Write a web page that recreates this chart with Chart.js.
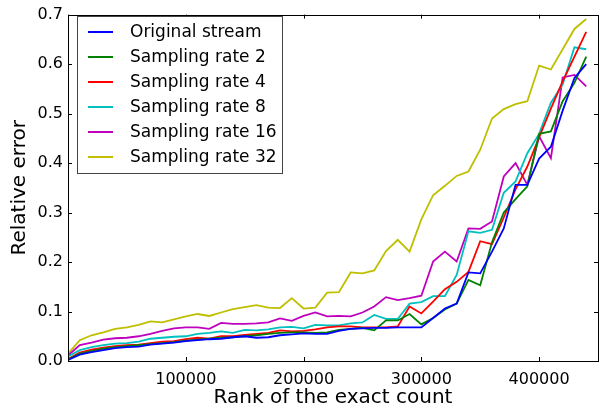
<!DOCTYPE html>
<html>
<head>
<meta charset="utf-8">
<script src="https://cdn.jsdelivr.net/npm/chart.js@4"></script>
<style>
  html, body { margin: 0; padding: 0; background: #fff; }
  #wrap { width: 607px; height: 412px; }
</style>
</head>
<body>
<div id="wrap"><canvas id="graphique" width="607" height="412"></canvas></div>
<script>
// rank of the exact count
var ranks = [0, 10000, 20000, 30000, 40000, 50000, 60000, 70000, 80000, 90000,
  100000, 110000, 120000, 130000, 140000, 150000, 160000, 170000, 180000, 190000,
  200000, 210000, 220000, 230000, 240000, 250000, 260000, 270000, 280000, 290000,
  300000, 310000, 320000, 330000, 340000, 350000, 360000, 370000, 380000, 390000,
  400000, 410000, 420000, 430000, 440000];

var original = [0.002, 0.013, 0.018, 0.022, 0.026, 0.028, 0.029, 0.033, 0.035, 0.037,
  0.040, 0.042, 0.044, 0.045, 0.048, 0.050, 0.047, 0.048, 0.052, 0.054,
  0.056, 0.055, 0.055, 0.061, 0.065, 0.066, 0.067, 0.067, 0.068, 0.068,
  0.068, 0.087, 0.106, 0.116, 0.179, 0.177, 0.221, 0.268, 0.356, 0.356,
  0.409, 0.433, 0.506, 0.572, 0.600];
var rate2 = [0.003, 0.015, 0.020, 0.025, 0.028, 0.030, 0.032, 0.034, 0.036, 0.038,
  0.041, 0.043, 0.045, 0.047, 0.048, 0.050, 0.052, 0.055, 0.057, 0.058,
  0.058, 0.057, 0.058, 0.063, 0.065, 0.067, 0.062, 0.082, 0.082, 0.095,
  0.074, 0.087, 0.104, 0.116, 0.164, 0.153, 0.240, 0.300, 0.327, 0.353,
  0.459, 0.464, 0.525, 0.562, 0.615];
var rate4 = [0.004, 0.017, 0.023, 0.027, 0.030, 0.032, 0.033, 0.036, 0.039, 0.040,
  0.044, 0.047, 0.045, 0.050, 0.050, 0.053, 0.055, 0.057, 0.062, 0.060,
  0.061, 0.064, 0.068, 0.070, 0.070, 0.068, 0.068, 0.068, 0.070, 0.110,
  0.096, 0.120, 0.145, 0.160, 0.180, 0.242, 0.236, 0.290, 0.347, 0.393,
  0.452, 0.510, 0.565, 0.615, 0.665];
var rate8 = [0.009, 0.022, 0.028, 0.032, 0.035, 0.036, 0.039, 0.045, 0.047, 0.049,
  0.050, 0.055, 0.057, 0.060, 0.057, 0.063, 0.062, 0.064, 0.068, 0.069,
  0.066, 0.073, 0.072, 0.072, 0.076, 0.078, 0.093, 0.085, 0.085, 0.116,
  0.119, 0.131, 0.131, 0.174, 0.262, 0.259, 0.265, 0.340, 0.363, 0.420,
  0.459, 0.522, 0.559, 0.634, 0.630];
var rate16 = [0.011, 0.032, 0.037, 0.043, 0.046, 0.047, 0.050, 0.055, 0.061, 0.066,
  0.068, 0.068, 0.065, 0.077, 0.075, 0.075, 0.076, 0.078, 0.086, 0.081,
  0.091, 0.098, 0.090, 0.091, 0.090, 0.098, 0.110, 0.129, 0.123, 0.127,
  0.132, 0.201, 0.221, 0.201, 0.268, 0.267, 0.282, 0.373, 0.400, 0.356,
  0.454, 0.410, 0.573, 0.578, 0.555];
var rate32 = [0.015, 0.042, 0.052, 0.058, 0.065, 0.068, 0.073, 0.080, 0.078, 0.084,
  0.090, 0.095, 0.091, 0.098, 0.105, 0.109, 0.113, 0.108, 0.107, 0.127,
  0.106, 0.108, 0.138, 0.139, 0.179, 0.177, 0.183, 0.222, 0.245, 0.221,
  0.286, 0.335, 0.354, 0.374, 0.383, 0.427, 0.490, 0.509, 0.519, 0.525,
  0.597, 0.589, 0.630, 0.671, 0.691];

var labels = ['Original stream', 'Sampling rate 2', 'Sampling rate 4',
  'Sampling rate 8', 'Sampling rate 16', 'Sampling rate 32'];
var series = [original, rate2, rate4, rate8, rate16, rate32];
var colors = ['#0000ff', '#008000', '#ff0000', '#00bfbf', '#bf00bf', '#bfbf00'];

var xTicks = [0, 100000, 200000, 300000, 400000];
var yTicks = [0, 0.1, 0.2, 0.3, 0.4, 0.5, 0.6, 0.7];

var FONT = '"DejaVu Sans", sans-serif';

function toPoints(vals) {
  var pts = [];
  for (var i in vals) pts.push({x: ranks[i], y: vals[i]});
  return pts;
}

var datasets = [];
for (var i in series) {
  datasets.push({
    label: labels[i],
    data: toPoints(series[i]),
    borderColor: colors[i],
    backgroundColor: colors[i],
    borderWidth: 1.8,
    pointRadius: 0,
    tension: 0,
    fill: false
  });
}

// frame, inward ticks and legend box, matplotlib style
var framePlugin = {
  id: 'frame',
  afterDraw: function(chart) {
    var ctx = chart.ctx, a = chart.chartArea;
    var xs = chart.scales.x, ys = chart.scales.y;
    ctx.save();
    ctx.strokeStyle = '#000';
    ctx.lineWidth = 1;
    ctx.strokeRect(Math.round(a.left) + 0.5, Math.round(a.top) + 0.5,
      Math.round(a.right - a.left), Math.round(a.bottom - a.top));
    ctx.beginPath();
    xTicks.forEach(function(t) {
      var px = Math.round(xs.getPixelForValue(t)) + 0.5;
      ctx.moveTo(px, a.bottom); ctx.lineTo(px, a.bottom - 4);
      ctx.moveTo(px, a.top); ctx.lineTo(px, a.top + 4);
    });
    yTicks.forEach(function(t) {
      var py = Math.round(ys.getPixelForValue(t)) + 0.5;
      ctx.moveTo(a.left, py); ctx.lineTo(a.left + 4, py);
      ctx.moveTo(a.right, py); ctx.lineTo(a.right - 4, py);
    });
    ctx.stroke();

    // legend
    var bx = 77, by = 16, bw = 205, bh = 157;
    ctx.fillStyle = '#fff';
    ctx.fillRect(bx, by, bw, bh);
    ctx.strokeStyle = '#444';
    ctx.strokeRect(bx + 0.5, by + 0.5, bw, bh);
    ctx.font = '17px ' + FONT;
    ctx.textBaseline = 'middle';
    for (var i = 0; i < labels.length; i++) {
      var y = by + 16 + i * 25;
      ctx.strokeStyle = colors[i];
      ctx.lineWidth = 2;
      ctx.beginPath();
      ctx.moveTo(bx + 11, y); ctx.lineTo(bx + 36, y);
      ctx.stroke();
      ctx.fillStyle = '#000';
      ctx.fillText(labels[i], bx + 53, y + 1);
    }
    ctx.restore();
  }
};

var ctx = document.getElementById('graphique');
var lineGraph = new Chart(ctx, {
  type: 'line',
  data: { datasets: datasets },
  plugins: [framePlugin],
  options: {
    responsive: false,
    animation: false,
    layout: { padding: { top: 9, right: 9, left: 0, bottom: 2 } },
    plugins: { legend: { display: false }, tooltip: { enabled: false } },
    scales: {
      x: {
        type: 'linear',
        min: 0,
        max: 450000,
        afterBuildTicks: function(s) { s.ticks = xTicks.map(function(v) { return {value: v}; }); },
        afterFit: function(s) { s.height = 49; },
        grid: { display: false, drawTicks: false },
        border: { display: false },
        ticks: {
          padding: 9,
          color: '#000',
          font: { family: FONT, size: 16 },
          maxRotation: 0,
          callback: function(v) { return v === 0 ? '' : String(v); }
        },
        title: {
          display: true,
          text: 'Rank of the exact count',
          color: '#000',
          font: { family: FONT, size: 20 },
          padding: { top: 0, bottom: 0 }
        }
      },
      y: {
        min: 0,
        max: 0.7,
        afterBuildTicks: function(s) { s.ticks = yTicks.map(function(v) { return {value: v}; }); },
        afterFit: function(s) { s.width = 68; },
        grid: { display: false, drawTicks: false },
        border: { display: false },
        ticks: {
          padding: 5,
          color: '#000',
          font: { family: FONT, size: 16 },
          callback: function(v) { return v.toFixed(1); }
        },
        title: {
          display: true,
          text: 'Relative error',
          color: '#000',
          font: { family: FONT, size: 20 },
          padding: { top: 8, bottom: 4 }
        }
      }
    }
  }
});
</script>
</body>
</html>
